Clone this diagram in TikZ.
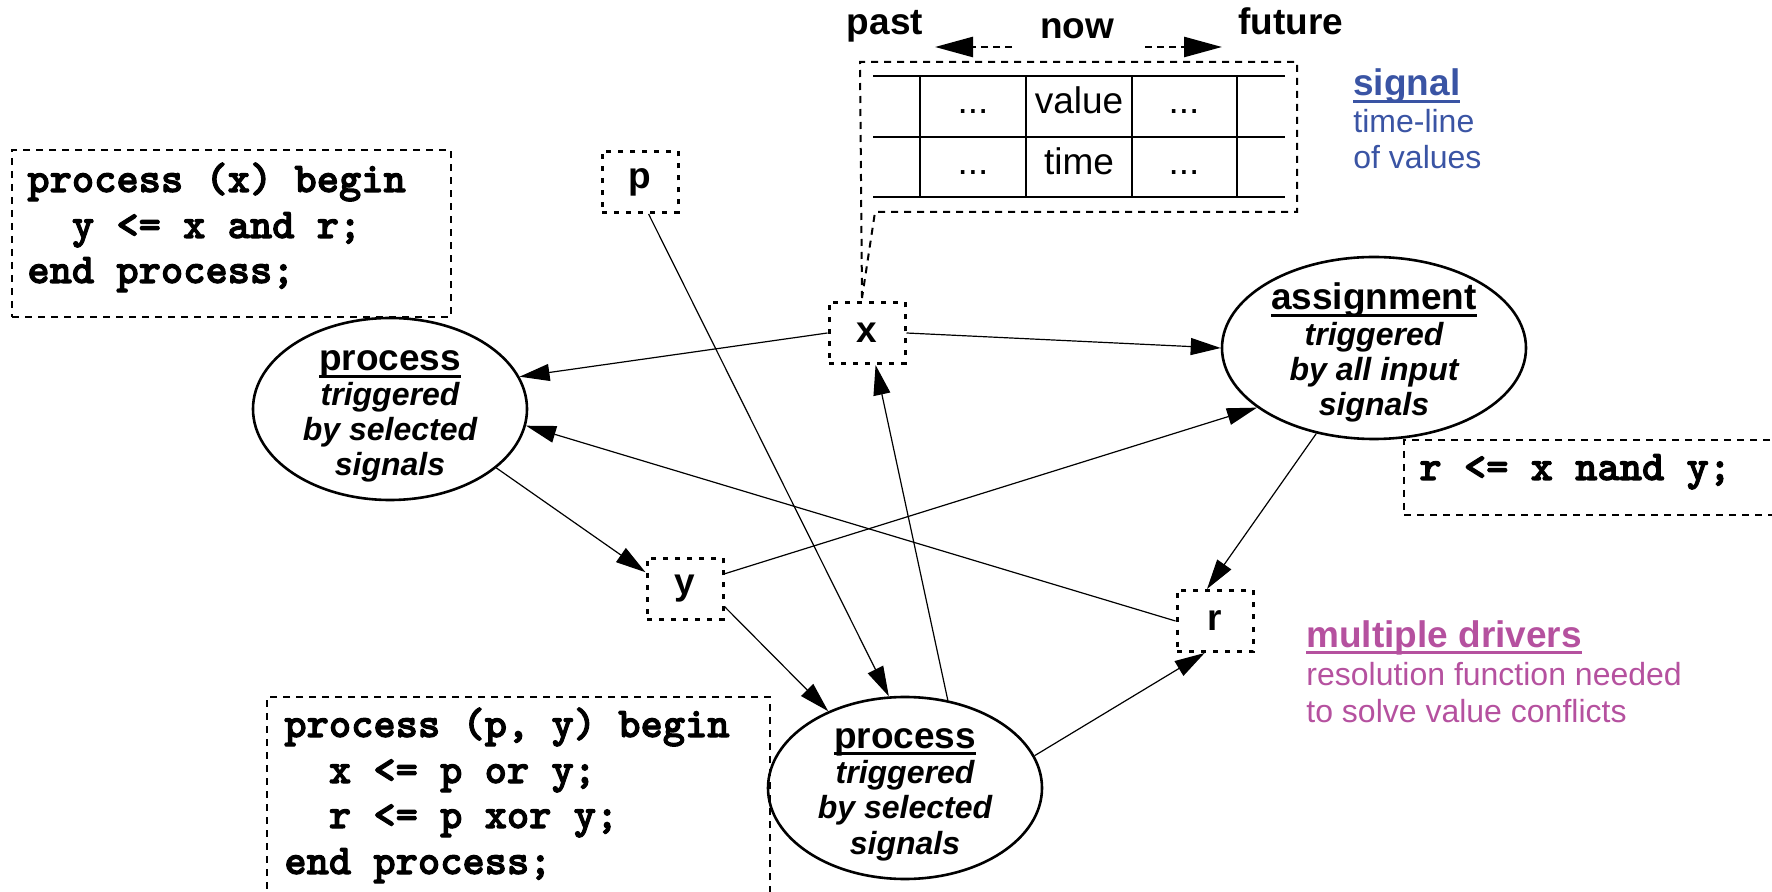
\documentclass[tikz,border=0pt]{standalone}
\usepackage{fontspec}
\setmainfont{Liberation Sans}
\newfontfamily\codefont{lmmonolt10-bold.otf}[FakeBold=2.5]
\usetikzlibrary{arrows.meta,shapes.geometric}
\definecolor{sigblue}{RGB}{58,84,164}
\definecolor{drvmag}{RGB}{181,81,159}
\newcommand\myul[1]{\setbox0\hbox{#1}\rlap{\rule[-3.5pt]{\wd0}{1.5pt}}\box0}
\tikzset{
 sig/.style={draw, line width=1.5pt, dash pattern=on 2.5pt off 3.5pt, minimum width=38pt, minimum height=30.5pt, inner sep=0pt, font=\bfseries\fontsize{18.5}{20}\selectfont},
 codebox/.style={draw, line width=1pt, dash pattern=on 3.5pt off 3pt, inner sep=0pt},
 proc/.style={draw, ellipse, line width=1.3pt, inner sep=0pt},
 conn/.style={line width=0.6pt, -{Triangle[length=15pt,width=8.5pt]}},
 code/.style={anchor=base west, inner sep=0pt, font=\codefont\fontsize{21.2}{22}\selectfont},
 ptxt/.style={anchor=base, inner sep=0pt, font=\bfseries\itshape\fontsize{16}{18}\selectfont},
 phead/.style={anchor=base, inner sep=0pt, font=\bfseries\fontsize{18.5}{20}\selectfont},
 tl/.style={line width=1.4pt},
 ttxt/.style={anchor=base, inner sep=0pt, font=\fontsize{18.5}{20}\selectfont},
 tarrow/.style={line width=1.3pt, dash pattern=on 3.5pt off 2.5pt, -{Triangle[length=19pt,width=10pt]}},
 note/.style={anchor=base west, inner sep=0pt, font=\fontsize{16}{18}\selectfont},
 notehead/.style={anchor=base west, inner sep=0pt, font=\bfseries\fontsize{18.5}{20}\selectfont},
}
\begin{document}
\begin{tikzpicture}[x=0.5pt,y=-0.5pt]
\useasboundingbox (0,0) rectangle (1772,892);

% signal boxes
\node[sig] (sp) at (640,182) {p};
\node[sig] (sx) at (867,333) {x};
\node[sig] (sy) at (685,589) {y};
\node[sig] (sr) at (1215,621) {r};

% ellipses
\node[proc, minimum width=137pt, minimum height=91pt] (P1) at (390,409) {};
\node[proc, minimum width=152pt, minimum height=91pt] (A) at (1374,348) {};
\node[proc, minimum width=137pt, minimum height=91pt] (B) at (905,788) {};

\node[phead] (P1a) at (390,371) {\myul{process}};
\node[ptxt] (P1b) at (390,406) {triggered};
\node[ptxt] (P1c) at (390,441) {by selected};
\node[ptxt] (P1d) at (390,476) {signals};

\node[phead] (Aa) at (1374,310) {\myul{assignment}};
\node[ptxt] (Ab) at (1374,346) {triggered};
\node[ptxt] (Ac) at (1374,381) {by all input};
\node[ptxt] (Ad) at (1374,416) {signals};

\node[phead] (Ba) at (905,748) {\myul{process}};
\node[ptxt] (Bb) at (905,783) {triggered};
\node[ptxt] (Bc) at (905,818) {by selected};
\node[ptxt] (Bd) at (905,854) {signals};

% code boxes
\node[codebox, minimum width=219.5pt, minimum height=83.5pt] (C1) at (231.5,233.5) {};
\node[code] (C1a) at (27,192) {process (x) begin};
\node[code] (C1b) at (27,238) {\phantom{xx}y <= x and r;};
\node[code] (C1c) at (27,283) {end process;};

\node[codebox, minimum width=193pt, minimum height=37.5pt] (C3) at (1597,477.5) {};
\node[code] (C3a) at (1419,480) {r <= x nand y;};

\node[codebox, minimum width=251.5pt, minimum height=106.5pt] (C2) at (518.5,803.5) {};
\node[code] (C2a) at (284,737) {process (p, y) begin};
\node[code] (C2b) at (284,783) {\phantom{xx}x <= p or y;};
\node[code] (C2c) at (284,828) {\phantom{xx}r <= p xor y;};
\node[code] (C2d) at (284,874) {end process;};

% signal time line callout
\coordinate (ctip) at (862,298);
\draw[codebox] (ctip) -- (860,62) -- (1297,62) -- (1297,212) -- (875,212) -- cycle;
\draw[tl] (873,76) -- (1285,76) (873,137) -- (1285,137) (873,197) -- (1285,197);
\foreach \xx in {920,1026,1132,1237} \draw[tl] (\xx,76) -- (\xx,197);
\node[ttxt] (t11) at (973,114) {...};
\node[ttxt] (t12) at (1079,114) {value};
\node[ttxt] (t13) at (1184,114) {...};
\node[ttxt] (t21) at (973,175) {...};
\node[ttxt] (t22) at (1079,175) {time};
\node[ttxt] (t23) at (1184,175) {...};

\node[phead] (past) at (885,35) {past};
\node[phead] (now) at (1077,39) {now};
\node[phead] (future) at (1291,35) {future};
\coordinate (la0) at (1012,47);
\coordinate (la1) at (935,47);
\coordinate (ra0) at (1145,47);
\coordinate (ra1) at (1222,47);
\draw[tarrow] (la0) -- (la1);
\draw[tarrow] (ra0) -- (ra1);

% notes
\node[notehead, text=sigblue] (sg1) at (1353,96) {\myul{signal}};
\node[note, text=sigblue] (sg2) at (1353,133) {time-line};
\node[note, text=sigblue] (sg3) at (1353,169) {of values};

\node[notehead, text=drvmag] (md1) at (1306,647) {\myul{multiple drivers}};
\node[note, text=drvmag] (md2) at (1306,685) {resolution function needed};
\node[note, text=drvmag] (md3) at (1306,722) {to solve value conflicts};

% connectors
\draw[conn] (sx.180) -- (P1.14);
\draw[conn] (sx.0) -- (A.180);
\draw[conn] (P1.-29) -- (sy.157);
\draw[conn] (sy.21) -- (A.207);
\draw[conn] (sr.180) -- (P1.-7);
\draw[conn] (A.-124) -- (sr.104);
\draw[conn] (sy.-24) -- (B.135);
\draw[conn] (sp.-75) -- (B.100);
\draw[conn] (B.64) -- (sx.-75);
\draw[conn] (B.14) -- (sr.-108);
\end{tikzpicture}
\end{document}
